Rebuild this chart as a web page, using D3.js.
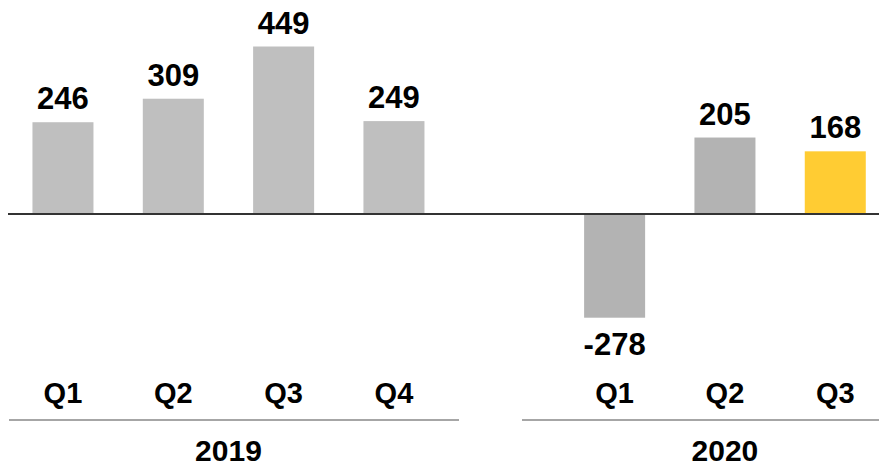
<!DOCTYPE html>
<html>
<head>
<meta charset="utf-8">
<script src="https://cdn.jsdelivr.net/npm/d3@7"></script>
<style>
  html, body { margin: 0; padding: 0; background: #fff; }
  svg { display: block; font-family: Arial, "Liberation Sans", sans-serif; }
</style>
</head>
<body>
<svg id="chart" width="879" height="467"></svg>
<script>
// ---- data ----
const slots = ["2019-Q1", "2019-Q2", "2019-Q3", "2019-Q4", "gap", "2020-Q1", "2020-Q2", "2020-Q3"];
const quarters = ["Q1", "Q2", "Q3", "Q4", "Q1", "Q2", "Q3"];
const years = ["2019", "2019", "2019", "2019", "2020", "2020", "2020"];
const values = [246, 309, 449, 249, -278, 205, 168];
const keys = ["2019-Q1", "2019-Q2", "2019-Q3", "2019-Q4", "2020-Q1", "2020-Q2", "2020-Q3"];
const yearLabels = ["2019", "2020"];

const colors = {"2019": "#bfbfbf", "2020": "#b3b3b3", "highlight": "#ffcc33"};

const data = keys.map((k, i) => ({key: k, q: quarters[i], year: years[i], value: values[i], last: i === keys.length - 1}));

const svg = d3.select("#chart");

const x = d3.scaleBand()
  .domain(slots)
  .range([7.8, 7.8 + 8 * 110.33])
  .paddingInner(0.447)
  .paddingOuter(0.2235);

const y = d3.scaleLinear().domain([0, 449]).range([214, 46.5]);

// bars
svg.append("g").selectAll("rect").data(data).join("rect")
  .attr("x", d => x(d.key))
  .attr("width", x.bandwidth())
  .attr("y", d => Math.min(y(0), y(d.value)))
  .attr("height", d => Math.abs(y(d.value) - y(0)))
  .attr("fill", d => d.last ? colors.highlight : colors[d.year]);

// zero line
svg.append("line")
  .attr("x1", 8).attr("x2", 879)
  .attr("y1", y(0)).attr("y2", y(0))
  .attr("stroke", "#333").attr("stroke-width", 2);

// value labels
svg.append("g").selectAll("text").data(data).join("text")
  .attr("x", d => x(d.key) + x.bandwidth() / 2)
  .attr("y", d => d.value >= 0 ? y(d.value) - 13 : y(d.value) + 37)
  .attr("text-anchor", "middle")
  .attr("font-size", 31)
  .attr("font-weight", "bold")
  .attr("fill", "#000")
  .text(d => d.value);

// quarter labels
svg.append("g").selectAll("text").data(data).join("text")
  .attr("x", d => x(d.key) + x.bandwidth() / 2)
  .attr("y", 403)
  .attr("text-anchor", "middle")
  .attr("font-size", 29)
  .attr("font-weight", "bold")
  .attr("fill", "#000")
  .text(d => d.q);

// year group lines and labels
const groups = yearLabels.map(yr => {
  const ks = data.filter(d => d.year === yr);
  const x0 = x(ks[0].key), x1 = x(ks[ks.length - 1].key) + x.bandwidth();
  return {yr, x0, x1};
});
const lineExt = {"2019": [9, 459], "2020": [522, 879]};

svg.append("g").selectAll("line").data(groups).join("line")
  .attr("x1", d => lineExt[d.yr][0])
  .attr("x2", d => lineExt[d.yr][1])
  .attr("y1", 420).attr("y2", 420)
  .attr("stroke", "#a6a6a6").attr("stroke-width", 2);

svg.append("g").selectAll("text").data(groups).join("text")
  .attr("x", d => (d.x0 + d.x1) / 2)
  .attr("y", 461)
  .attr("text-anchor", "middle")
  .attr("font-size", 30)
  .attr("font-weight", "bold")
  .attr("fill", "#000")
  .text(d => d.yr);
</script>
</body>
</html>
